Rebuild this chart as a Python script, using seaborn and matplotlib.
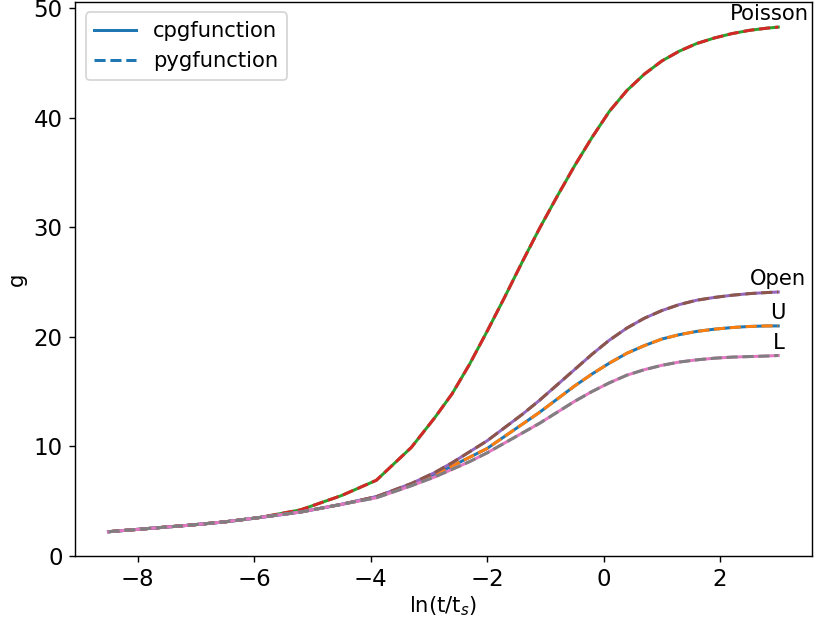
import matplotlib
matplotlib.use("Agg")
import matplotlib.pyplot as plt
from matplotlib.lines import Line2D
import seaborn as sns
import numpy as np

ln_t = [-8.5, -7.8, -7.1, -6.5, -5.9, -5.2, -4.5, -3.9, -3.3, -2.9, -2.6, -2.3, -2.0,
        -1.7, -1.4, -1.1, -0.8, -0.5, -0.2, 0.1, 0.4, 0.7, 1.0, 1.3, 1.6, 1.9, 2.2,
        2.5, 2.8, 3.0]

g_U = [2.2, 2.5, 2.8, 3.1, 3.5, 4.0, 4.7, 5.4, 6.5, 7.4, 8.2, 9.0, 9.8,
       10.9, 12.0, 13.1, 14.3, 15.5, 16.6, 17.6, 18.5, 19.2, 19.8, 20.2, 20.5,
       20.7, 20.85, 20.95, 21.0, 21.0]
g_Poisson = [2.2, 2.5, 2.8, 3.1, 3.5, 4.2, 5.5, 6.9, 9.9, 12.6, 14.8, 17.5, 20.5,
             23.6, 26.8, 29.9, 32.8, 35.6, 38.2, 40.6, 42.5, 44.0, 45.2, 46.1, 46.8,
             47.3, 47.7, 48.0, 48.2, 48.3]
g_Open = [2.2, 2.5, 2.8, 3.1, 3.5, 4.0, 4.7, 5.4, 6.6, 7.6, 8.5, 9.5, 10.5,
          11.7, 12.9, 14.2, 15.6, 17.0, 18.4, 19.7, 20.8, 21.7, 22.4, 22.95, 23.35,
          23.6, 23.8, 23.95, 24.05, 24.1]
g_L = [2.2, 2.5, 2.8, 3.1, 3.5, 4.0, 4.7, 5.3, 6.4, 7.2, 7.9, 8.6, 9.4,
       10.3, 11.2, 12.1, 13.1, 14.1, 15.0, 15.8, 16.5, 17.0, 17.4, 17.7, 17.9,
       18.05, 18.15, 18.2, 18.25, 18.3]

configs = ["U", "Poisson", "Open", "L"]
series = [g_U, g_Poisson, g_Open, g_L]
palette = sns.color_palette("tab10")

plt.rcParams.update({"font.size": 12, "xtick.labelsize": 13, "ytick.labelsize": 13,
                     "axes.labelsize": 12, "legend.fontsize": 12})

fig = plt.figure(figsize=(815 / 127, 621 / 127), dpi=127)
ax = fig.add_subplot(111)
fig.subplots_adjust(left=0.092, right=0.996, top=0.997, bottom=0.105)

for i, (name, g) in enumerate(zip(configs, series)):
    sns.lineplot(x=ln_t, y=g, color=palette[2 * i], linestyle="-", ax=ax, lw=1.7)
    sns.lineplot(x=ln_t, y=g, color=palette[2 * i + 1], linestyle="--", ax=ax, lw=1.7)
    dx = -0.15 if name == "Poisson" else 0.0
    ax.annotate(name, xy=(ln_t[-1] + dx, g[-1]), xytext=(0, 1.5),
                textcoords="offset points", ha="center", va="bottom", fontsize=12)

ax.set_ylim(bottom=0)
ax.set_xlabel("ln(t/t$_s$)", labelpad=2)
ax.set_ylabel("g")

handles = [Line2D([0], [0], color=palette[0], ls="-", lw=1.7),
           Line2D([0], [0], color=palette[0], ls="--", lw=1.7)]
ax.legend(handles, ["cpgfunction", "pygfunction"], loc="upper left")

fig.savefig("out.png", dpi=127)
